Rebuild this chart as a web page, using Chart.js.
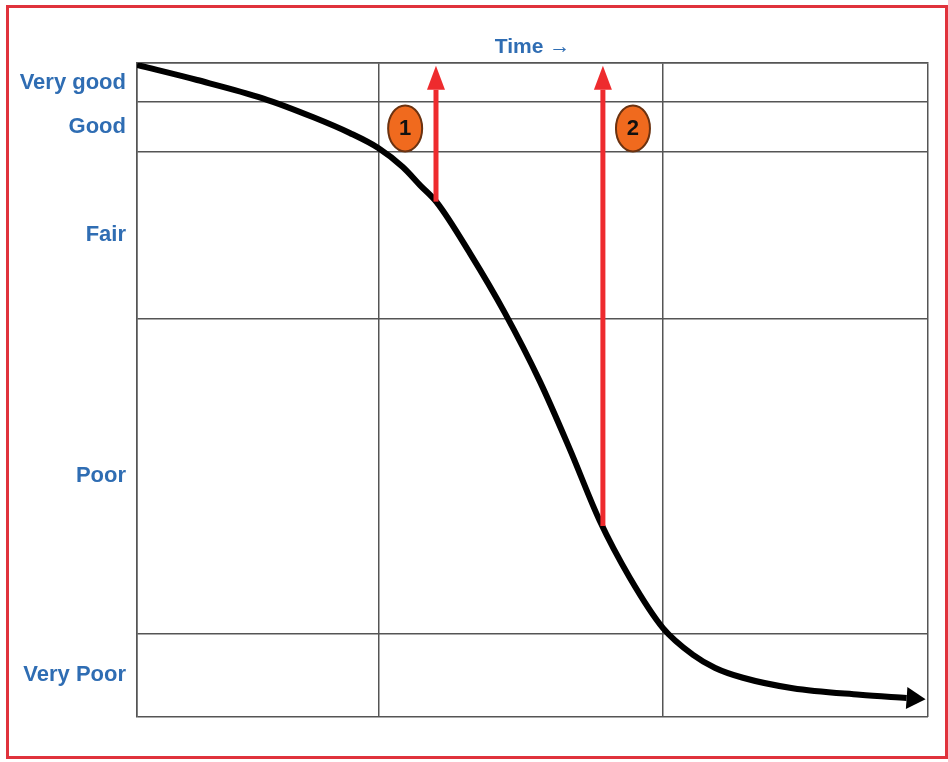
<!DOCTYPE html>
<html>
<head>
<meta charset="utf-8">
<script src="https://cdn.jsdelivr.net/npm/chart.js@4.4.1/dist/chart.umd.min.js"></script>
<style>
    html, body { margin: 0; padding: 0; background: #fff; }
    #frame {
        position: absolute; left: 6px; top: 5px; width: 936px; height: 748px;
        border: 3px solid #e0323c; box-sizing: content-box;
    }
    #wrap { position: absolute; left: 0; top: 0; width: 948px; height: 762px; }
</style>
</head>
<body>
<div id="frame"></div>
<div id="wrap"><canvas id="lineChart" width="948" height="762"></canvas></div>
<script>
// condition bands (0 = worst, 100 = best)
const bandEdges = [0, 12.8, 60.9, 86.4, 94.0, 100];
const bandLabels = ['Very Poor', 'Poor', 'Fair', 'Good', 'Very good'];
const timeEdges = [0, 30.5, 66.5, 100];

// deterioration curve
const curveX = [0, 7.6, 15.9, 22.3, 26.9, 30.5, 33.6, 35.8, 37.9, 42.1, 46.5, 50.9, 54.7, 58.5, 62.3, 66.5, 70.3, 73.1, 76.6, 82.9, 91.4, 97.3];
const curveY = [99.7, 97.4, 94.6, 91.7, 89.3, 87.0, 84.1, 81.3, 78.7, 70.9, 61.8, 51.4, 41.0, 30.0, 21.3, 13.6, 9.5, 7.5, 6.0, 4.4, 3.4, 2.9];

// treatment arrows (x, from, to)
const arrowX = [37.8, 58.9];
const arrowFrom = [78.8, 29.2];
const arrowTo = [95.9, 95.9];
const markerX = [33.9, 62.7];
const markerY = [90.0, 90.0];
const markerText = ['1', '2'];

const FONT = "'Liberation Sans', Arial, sans-serif";
const BLUE = '#2f6db3';
const GRID = '#555555';

document.addEventListener('DOMContentLoaded', function() {
    const bandMids = [];
    for (let i = 0; i < bandLabels.length; i++) {
        bandMids.push((bandEdges[i] + bandEdges[i + 1]) / 2);
    }

    const datasets = [];
    arrowX.forEach((x, i) => {
        datasets.push({
            data: [{ x: x, y: arrowFrom[i] }, { x: x, y: arrowTo[i] }],
            borderColor: '#ee2b2e',
            borderWidth: 5,
            pointRadius: 0,
            arrowHead: { length: 24, width: 18, color: '#ee2b2e' }
        });
    });
    datasets.push({
        data: curveX.map((x, i) => ({ x: x, y: curveY[i] })),
        borderColor: '#000',
        borderWidth: 6,
        pointRadius: 0,
        cubicInterpolationMode: 'monotone',
        arrowHead: { length: 19, width: 22, color: '#000' }
    });

    const arrowPlugin = {
        id: 'arrowHeads',
        afterDatasetsDraw(chart) {
            const ctx = chart.ctx;
            chart.data.datasets.forEach((ds, i) => {
                if (!ds.arrowHead) return;
                const pts = chart.getDatasetMeta(i).data;
                const a = pts[pts.length - 2], b = pts[pts.length - 1];
                const ang = Math.atan2(b.y - a.y, b.x - a.x);
                const h = ds.arrowHead;
                ctx.save();
                ctx.translate(b.x, b.y);
                ctx.rotate(ang);
                ctx.fillStyle = h.color;
                ctx.beginPath();
                ctx.moveTo(h.length, 0);
                ctx.lineTo(0, -h.width / 2);
                ctx.lineTo(0, h.width / 2);
                ctx.closePath();
                ctx.fill();
                ctx.restore();
            });

            // numbered markers
            const xs = chart.scales.x, ys = chart.scales.y;
            markerX.forEach((mx, i) => {
                const px = xs.getPixelForValue(mx);
                const py = ys.getPixelForValue(markerY[i]);
                ctx.save();
                ctx.beginPath();
                ctx.ellipse(px, py, 17, 23, 0, 0, Math.PI * 2);
                ctx.fillStyle = '#f06a1e';
                ctx.fill();
                ctx.lineWidth = 2;
                ctx.strokeStyle = '#6b3210';
                ctx.stroke();
                ctx.fillStyle = '#111';
                ctx.font = 'bold 22px ' + FONT;
                ctx.textAlign = 'center';
                ctx.textBaseline = 'middle';
                ctx.fillText(markerText[i], px, py + 1);
                ctx.restore();
            });
        }
    };

    const ctx = document.getElementById('lineChart').getContext('2d');
    new Chart(ctx, {
        type: 'line',
        data: { datasets: datasets },
        options: {
            responsive: false,
            animation: false,
            layout: { padding: { left: 0, top: 0, right: 20, bottom: 45 } },
            plugins: { legend: { display: false }, tooltip: { enabled: false } },
            scales: {
                x: {
                    type: 'linear',
                    position: 'top',
                    min: 0,
                    max: 100,
                    afterBuildTicks: scale => { scale.ticks = timeEdges.map(v => ({ value: v })); },
                    afterFit: scale => { scale.height = 63; },
                    ticks: { display: false },
                    grid: { color: GRID, lineWidth: 1.5, drawTicks: false },
                    border: { color: GRID, width: 1.5 },
                    title: {
                        display: true,
                        text: 'Time \u2192',
                        color: BLUE,
                        font: { family: FONT, size: 21, weight: 'bold' },
                        padding: { top: 35, bottom: 0 }
                    }
                },
                y: {
                    type: 'linear',
                    min: 0,
                    max: 100,
                    afterBuildTicks: scale => {
                        scale.ticks = bandEdges.concat(bandMids).sort((a, b) => a - b).map(v => ({ value: v }));
                    },
                    afterFit: scale => { scale.width = 137; },
                    ticks: {
                        autoSkip: false,
                        padding: 11,
                        color: BLUE,
                        font: { family: FONT, size: 22, weight: 'bold' },
                        callback: function(value) {
                            const k = bandMids.indexOf(value);
                            return k >= 0 ? bandLabels[k] : '';
                        }
                    },
                    grid: {
                        drawTicks: false,
                        lineWidth: 1.5,
                        color: c => (c.tick && bandEdges.indexOf(c.tick.value) >= 0) ? GRID : 'rgba(0,0,0,0)'
                    },
                    border: { color: GRID, width: 1.5 }
                }
            }
        },
        plugins: [arrowPlugin]
    });
});
</script>
</body>
</html>
